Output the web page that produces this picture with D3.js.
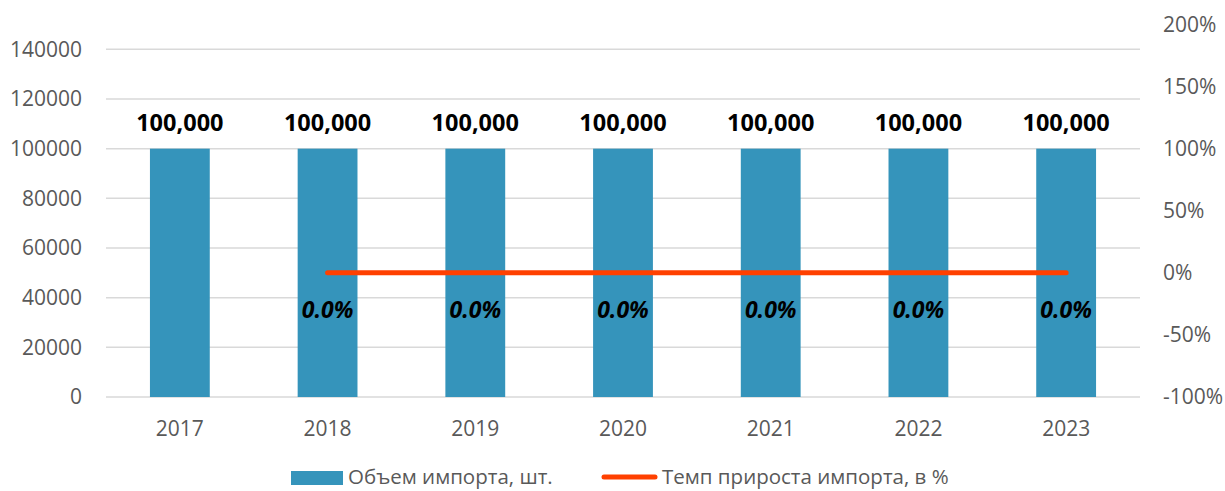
<!DOCTYPE html>
<html>
<head>
<meta charset="utf-8" />
<title>Импорт</title>
<script src="https://cdnjs.cloudflare.com/ajax/libs/d3/7.8.5/d3.min.js"></script>
<style>
  body { margin: 0; background: #fff; }
  svg { font-family: "Open Sans", sans-serif; }
</style>
</head>
<body>
<svg id="chart" width="1225" height="491"></svg>
<script>
const years = ['2017', '2018', '2019', '2020', '2021', '2022', '2023']
const importVolume = [100000, 100000, 100000, 100000, 100000, 100000, 100000]
// growth rate, first year has no value
const growthRate = [null, 0, 0, 0, 0, 0, 0]
const leftTicks = [0, 20000, 40000, 60000, 80000, 100000, 120000, 140000]
const rightTicks = [-1, -0.5, 0, 0.5, 1, 1.5, 2]
const seriesNames = ['Объем импорта, шт.', 'Темп прироста импорта, в %']

const barColor = '#3594BB'
const lineColor = '#FF4000'
const tickColor = '#595959'

const svg = d3.select('#chart')
const plotLeft = 106, plotRight = 1140, plotTop = 24.5, plotBottom = 397

let x = d3.scaleBand().domain(years).range([plotLeft, plotRight]).paddingInner(0.595).paddingOuter(0.2975)
let y = d3.scaleLinear().domain([0, 150000]).range([plotBottom, plotTop])
let y2 = d3.scaleLinear().domain([-1, 2]).range([plotBottom, plotTop])

// gridlines
svg.append('g')
  .selectAll('line')
  .data(leftTicks)
  .enter()
  .append('line')
  .attr('x1', plotLeft).attr('x2', plotRight)
  .attr('y1', d => y(d)).attr('y2', d => y(d))
  .style('stroke', '#d9d9d9')
  .style('stroke-width', 1.5)

// left axis
let yAxis = d3.axisLeft(y).tickValues(leftTicks).tickSize(0).tickPadding(0).tickFormat(d3.format('d'))
let gy = svg.append('g').attr('transform', 'translate(82,0)').call(yAxis)
gy.select('.domain').remove()
gy.selectAll('text').style('font-size', '21px').style('fill', tickColor).style('font-family', 'Open Sans')

// right axis (plain hyphen for negatives, like the original)
let pct = d => Math.round(d * 100) + '%'
let y2Axis = d3.axisRight(y2).tickValues(rightTicks).tickSize(0).tickPadding(0).tickFormat(pct)
let gy2 = svg.append('g').attr('transform', 'translate(1163,0)').call(y2Axis)
gy2.select('.domain').remove()
gy2.selectAll('text').style('font-size', '21px').style('fill', tickColor).style('font-family', 'Open Sans')

// bars
svg.append('g')
  .selectAll('rect')
  .data(importVolume)
  .enter()
  .append('rect')
  .attr('x', (d, i) => x(years[i]))
  .attr('y', d => y(d))
  .attr('width', x.bandwidth())
  .attr('height', d => plotBottom - y(d))
  .style('fill', barColor)

// x axis
let xAxis = d3.axisBottom(x).tickSize(0).tickPadding(24)
let gx = svg.append('g').attr('transform', 'translate(0,' + plotBottom + ')').call(xAxis)
gx.select('.domain').remove()
gx.selectAll('text').style('font-size', '21px').style('fill', tickColor).style('font-family', 'Open Sans')

// bar labels
svg.append('g')
  .selectAll('text')
  .data(importVolume)
  .enter()
  .append('text')
  .attr('x', (d, i) => x(years[i]) + x.bandwidth() / 2)
  .attr('y', d => y(d) - 18)
  .attr('text-anchor', 'middle')
  .style('font-size', '23.5px')
  .style('font-weight', 'bold')
  .style('fill', '#000')
  .text(d => d3.format(',')(d))

// growth line
let rateData = years.map((yr, i) => ({ year: yr, v: growthRate[i] })).filter(d => d.v !== null)
let line = d3.line().x(d => x(d.year) + x.bandwidth() / 2).y(d => y2(d.v))
svg.append('path')
  .datum(rateData)
  .attr('d', line)
  .style('fill', 'none')
  .style('stroke', lineColor)
  .style('stroke-width', 5)
  .style('stroke-linecap', 'round')
  .style('stroke-linejoin', 'round')

// rate labels
svg.append('g')
  .selectAll('text')
  .data(rateData)
  .enter()
  .append('text')
  .attr('x', d => x(d.year) + x.bandwidth() / 2)
  .attr('y', d => y2(d.v) + 45)
  .attr('text-anchor', 'middle')
  .style('font-size', '23px')
  .style('font-weight', 'bold')
  .style('font-style', 'italic')
  .style('fill', '#000')
  .text(d => d3.format('.1%')(d.v))

// legend
let legend = svg.append('g')
legend.append('rect')
  .attr('x', 291).attr('y', 471).attr('width', 52).attr('height', 14)
  .style('fill', barColor)
legend.append('text')
  .attr('x', 348).attr('y', 484)
  .style('font-size', '20.5px').style('fill', tickColor)
  .text(seriesNames[0])
legend.append('line')
  .attr('x1', 604).attr('x2', 655).attr('y1', 477).attr('y2', 477)
  .style('stroke', lineColor).style('stroke-width', 5).style('stroke-linecap', 'round')
legend.append('text')
  .attr('x', 662).attr('y', 484)
  .style('font-size', '20.5px').style('fill', tickColor)
  .text(seriesNames[1])
</script>
</body>
</html>
